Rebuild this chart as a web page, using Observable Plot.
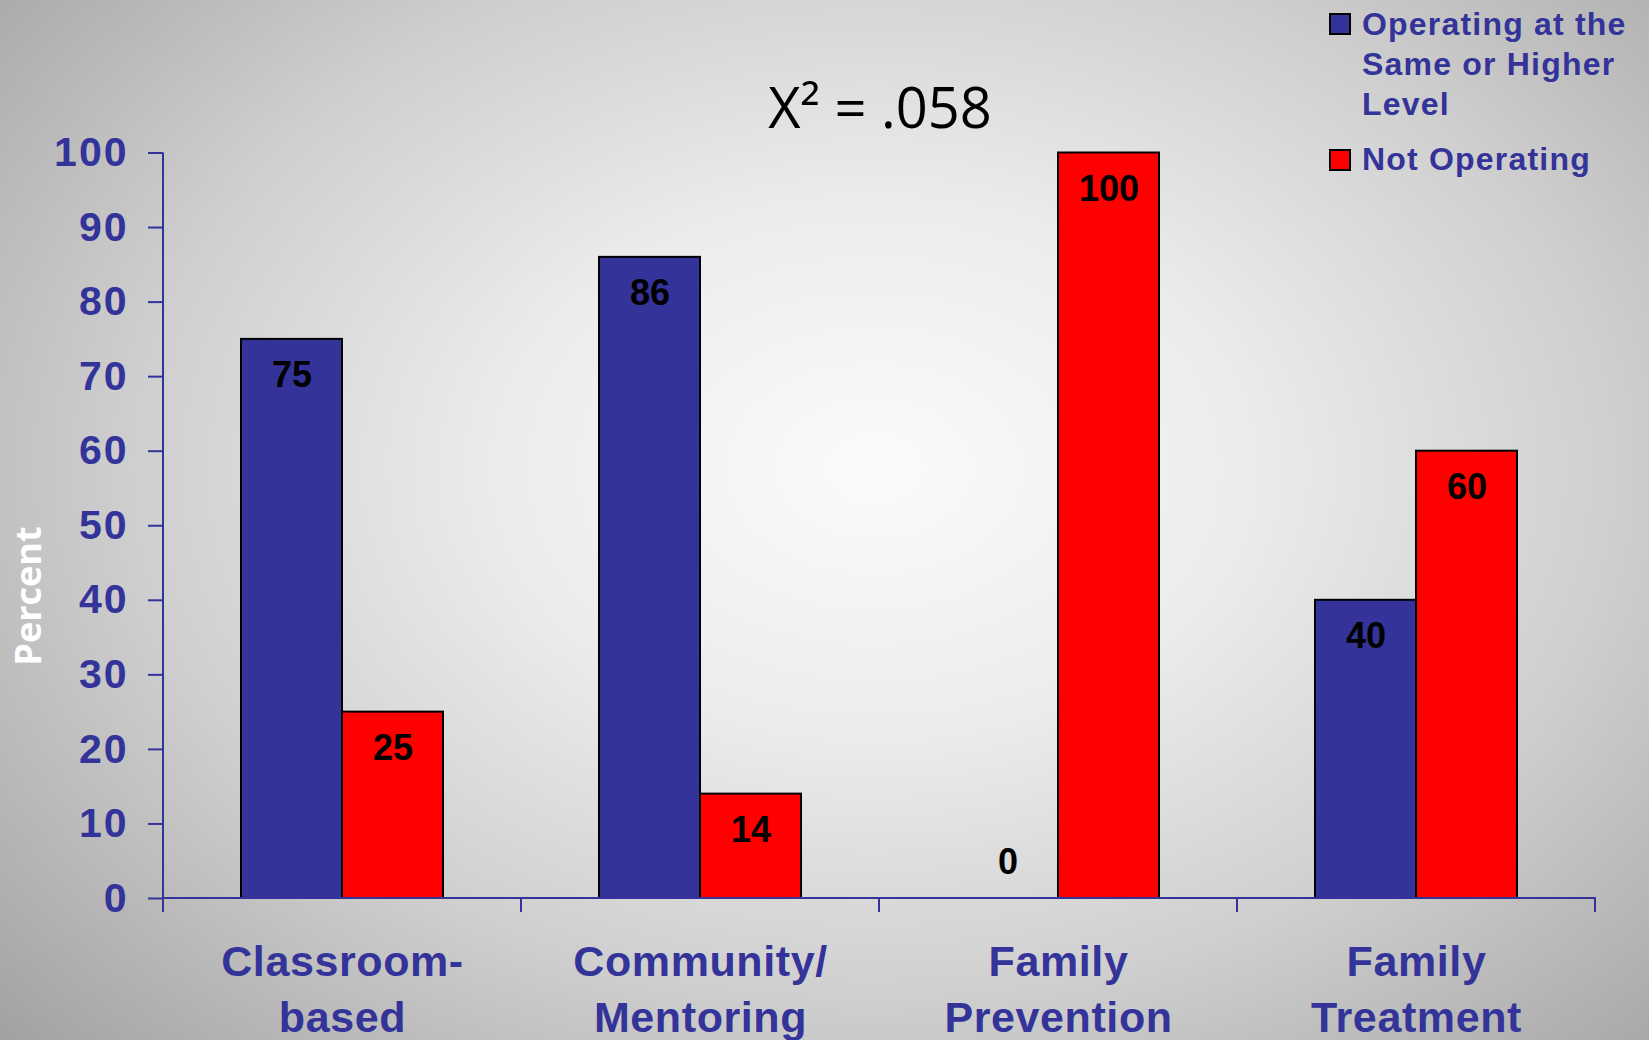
<!DOCTYPE html>
<html>
<head>
<meta charset="utf-8">
<script src="https://cdn.jsdelivr.net/npm/d3@7"></script>
<script src="https://cdn.jsdelivr.net/npm/@observablehq/plot@0.6"></script>
<style>
  html, body { margin: 0; padding: 0; }
  body {
    width: 1649px; height: 1040px; overflow: hidden;
    background: radial-gradient(ellipse 75% 85% at 53% 45%, #fbfbfb 0%, #ececec 30%, #cfcfcf 60%, #a9a9a9 90%, #9c9c9c 100%);
  }
  #wrap { position: relative; width: 1649px; height: 1040px; }
  #chart { position: absolute; left: 0; top: 0; }
  #chart g[aria-label="y-axis tick label"] text { letter-spacing: 2px; }
  #chart g[aria-label="fx-axis tick label"] text { letter-spacing: 0.6px; }
  .title { position: absolute; left: 880px; top: 78px; transform: translateX(-50%);
    font-family: "Open Sans", sans-serif; font-size: 56px; line-height: 56px; color: #000; white-space: nowrap; }
  .ylabel { position: absolute; left: 28px; top: 596px; transform: translate(-50%, -50%) rotate(-90deg);
    font-family: "Open Sans", sans-serif; font-weight: bold; font-size: 36px; line-height: 36px; color: #fff; white-space: nowrap; }
  .legend { position: absolute; left: 0; top: 0; font-family: "Liberation Sans", Arial, sans-serif; font-weight: bold;
    font-size: 32px; line-height: 40px; color: #333399; letter-spacing: 1.2px; }
  .legend .item { position: absolute; left: 1362px; white-space: nowrap; }
  .legend .sw { position: absolute; left: 1329px; width: 18px; height: 18px; border: 2px solid #000; }
</style>
</head>
<body>
<div id="wrap">
  <div id="chart"></div>
  <div class="title" id="title"></div>
  <div class="ylabel" id="ylabel"></div>
  <div class="legend" id="legend"></div>
</div>
<script>
// ---- data ----
const categories = ["Classroom-based", "Community/Mentoring", "Family Prevention", "Family Treatment"];
const tickLabels = ["Classroom-\nbased", "Community/\nMentoring", "Family\nPrevention", "Family\nTreatment"];
const series = ["Operating at the Same or Higher Level", "Not Operating"];
const legendLabels = ["Operating at the\nSame or Higher\nLevel", "Not Operating"];
const operating = [75, 86, 0, 40];
const notOperating = [25, 14, 100, 60];
const yTicks = [0, 10, 20, 30, 40, 50, 60, 70, 80, 90, 100];
const colors = ["#333399", "#ff0000"];
const titleText = "X\u00B2 = .058";
const yLabelText = "Percent";

const data = categories.flatMap((c, i) => [
  {category: c, series: series[0], value: operating[i]},
  {category: c, series: series[1], value: notOperating[i]}
]);

const axisColor = "#333399";
const font = "Liberation Sans, Arial, sans-serif";

const chart = Plot.plot({
  width: 1649,
  height: 1040,
  marginTop: 152.5,
  marginBottom: 142,
  marginLeft: 163,
  marginRight: 54,
  style: {background: "transparent", fontFamily: font, overflow: "visible"},
  fx: {domain: categories, padding: 0, label: null, axis: null},
  x: {domain: series, paddingInner: 0, paddingOuter: 0.755, axis: null},
  y: {domain: [0, 100], axis: null},
  color: {domain: series, range: colors},
  marks: [
    Plot.axisFx({
      anchor: "bottom",
      tickFormat: d => tickLabels[categories.indexOf(d)],
      tickSize: 0, tickPadding: 38, label: null,
      fontSize: 43, fontWeight: "bold", fill: axisColor, lineHeight: 1.3, fontFamily: font
    }),
    Plot.axisY({
      anchor: "left",
      ticks: yTicks, tickSize: 15, tickPadding: 20, label: null,
      stroke: axisColor, strokeWidth: 2, strokeOpacity: 1, fill: axisColor,
      fontSize: 41, fontWeight: "bold", fontFamily: font
    }),
    Plot.barY(data.filter(d => d.value > 0), {
      fx: "category", x: "series", y: "value", fill: "series",
      stroke: "#000", strokeWidth: 2
    }),
    Plot.text(data.filter(d => d.value > 0), {
      fx: "category", x: "series", y: "value", text: d => String(d.value),
      dy: 36, fontSize: 36, fontWeight: "bold", fill: "#000", fontFamily: font
    }),
    Plot.text(data.filter(d => d.value === 0), {
      fx: "category", x: "series", y: "value", text: d => String(d.value),
      dy: -36, fontSize: 36, fontWeight: "bold", fill: "#000", fontFamily: font
    })
  ]
});

// axis lines and category boundary ticks, positioned by Plot's own scales
const fxs = chart.scale("fx");
const ys = chart.scale("y");
const svg = d3.select(chart);
const g = svg.append("g").attr("stroke", axisColor).attr("stroke-width", 2);
const left = fxs.apply(categories[0]);
const right = fxs.apply(categories[categories.length - 1]) + fxs.bandwidth;
const y0 = ys.apply(0), y100 = ys.apply(100);
g.append("line").attr("x1", left).attr("x2", left).attr("y1", y100).attr("y2", y0);
g.append("line").attr("x1", left - 1).attr("x2", right + 1).attr("y1", y0).attr("y2", y0);
const bounds = categories.map(c => fxs.apply(c)).concat([right]);
bounds.forEach(x => {
  g.append("line").attr("x1", x).attr("x2", x).attr("y1", y0).attr("y2", y0 + 14);
});

document.getElementById("chart").appendChild(chart);
document.getElementById("title").textContent = titleText;
document.getElementById("ylabel").textContent = yLabelText;

// legend
const legend = document.getElementById("legend");
const tops = [4, 139];
const swTops = [13, 149];
series.forEach((s, i) => {
  const sw = document.createElement("div");
  sw.className = "sw";
  sw.style.top = swTops[i] + "px";
  sw.style.background = colors[i];
  legend.appendChild(sw);
  const t = document.createElement("div");
  t.className = "item";
  t.style.top = tops[i] + "px";
  t.innerHTML = legendLabels[i].split("\n").join("<br>");
  legend.appendChild(t);
});
</script>
</body>
</html>
